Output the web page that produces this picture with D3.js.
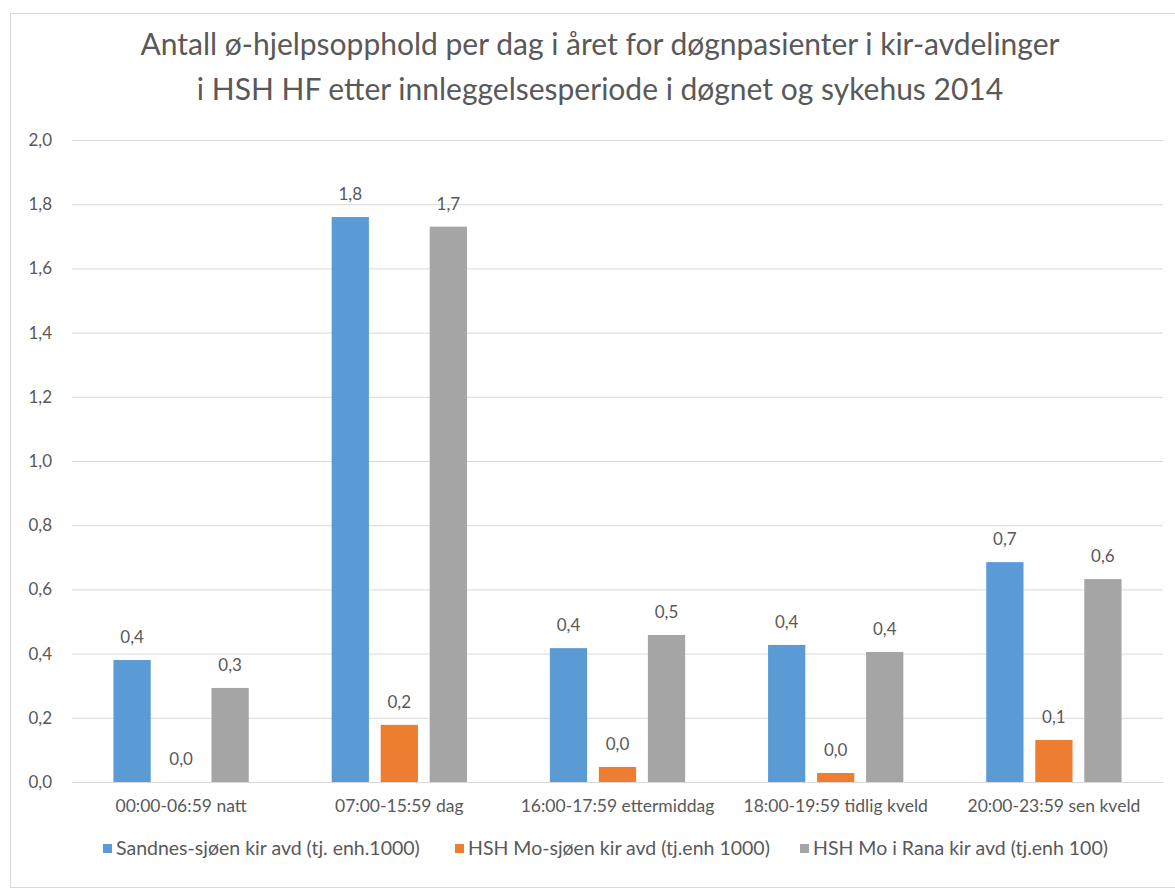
<!DOCTYPE html>
<html>
<head>
<meta charset="utf-8">
<script src="https://cdn.jsdelivr.net/npm/d3@7"></script>
<style>
  body { margin: 0; background: #fff; }
  svg text { font-family: Lato, "Open Sans", sans-serif; fill: #595959; }
</style>
</head>
<body>
<div id="content"></div>
<script>
// chart data
const categories = ["00:00-06:59 natt", "07:00-15:59 dag", "16:00-17:59 ettermiddag", "18:00-19:59 tidlig kveld", "20:00-23:59 sen kveld"];
const seriesNames = ["Sandnes-sjøen kir avd (tj. enh.1000)", "HSH Mo-sjøen kir avd (tj.enh 1000)", "HSH Mo i Rana kir avd (tj.enh 100)"];
const sandnessjoen = [0.38, 1.76, 0.417, 0.427, 0.685];
const moSjoen = [0, 0.178, 0.047, 0.028, 0.131];
const moIRana = [0.293, 1.73, 0.458, 0.405, 0.632];
const yTicks = [0, 0.2, 0.4, 0.6, 0.8, 1.0, 1.2, 1.4, 1.6, 1.8, 2.0];
const titleLines = ["Antall ø-hjelpsopphold  per dag i året for døgnpasienter i kir-avdelinger", "i HSH HF etter innleggelsesperiode  i døgnet og sykehus 2014"];

const colors = ["#5B9BD5", "#ED7D31", "#A5A5A5"];
const seriesValues = [sandnessjoen, moSjoen, moIRana];

const width = 1175, height = 890;
const x_min = 72, x_max = 1163, y_zero = 782, y_top = 140;

let svg = d3.select("#content")
  .append("svg")
  .attr("width", width)
  .attr("height", height);

// outer border
svg.append("rect")
  .attr("x", 10.5).attr("y", 13.5)
  .attr("width", 1200).attr("height", 874)
  .style("fill", "none")
  .style("stroke", "#D9D9D9");

// title
svg.append("g").selectAll("text")
  .data(titleLines)
  .join("text")
  .attr("x", 600)
  .attr("y", (d, i) => 55 + i * 45)
  .attr("text-anchor", "middle")
  .style("font-size", "30px")
  .text(d => d);

let x0 = d3.scaleBand()
  .domain(categories)
  .range([x_min, x_max])
  .paddingInner(0.38)
  .paddingOuter(0.19);

let x1 = d3.scaleBand()
  .domain(d3.range(seriesNames.length))
  .range([0, x0.bandwidth()])
  .paddingInner(0.24);

let y = d3.scaleLinear()
  .domain([0, 2])
  .range([y_zero, y_top]);

let fmt = v => d3.format(".1f")(v).replace(".", ",");

// y axis + gridlines
let yAxis = svg.append("g")
  .attr("transform", `translate(${x_min},0)`)
  .call(d3.axisLeft(y).tickValues(yTicks).tickFormat(fmt)
    .tickSize(-(x_max - x_min)).tickPadding(20));
yAxis.select(".domain").remove();
yAxis.selectAll("line").style("stroke", "#D9D9D9");
yAxis.selectAll("text").style("font-size", "17px").attr("font-family", null);

// bars
categories.forEach(function(cat, ci) {
  let g = svg.append("g").attr("transform", `translate(${x0(cat)},0)`);
  seriesValues.forEach(function(vals, si) {
    let v = vals[ci];
    g.append("rect")
      .attr("x", x1(si))
      .attr("y", y(v))
      .attr("width", x1.bandwidth())
      .attr("height", y(0) - y(v))
      .style("fill", colors[si]);
    g.append("text")
      .attr("x", x1(si) + x1.bandwidth() / 2)
      .attr("y", y(v) - 17)
      .attr("text-anchor", "middle")
      .style("font-size", "17px")
      .text(fmt(v));
  });
});

// x axis
let xAxis = svg.append("g")
  .attr("transform", `translate(0,${y_zero})`)
  .call(d3.axisBottom(x0).tickSize(0).tickSizeOuter(0).tickPadding(18));
xAxis.select(".domain").style("stroke", "#D9D9D9");
xAxis.selectAll("text").style("font-size", "17.5px").attr("font-family", null);

// legend
let legendX = [103, 455, 800];
let legend = svg.append("g").selectAll("g")
  .data(seriesNames)
  .join("g")
  .attr("transform", (d, i) => `translate(${legendX[i]},849)`);
legend.append("rect")
  .attr("x", 0).attr("y", -5)
  .attr("width", 9).attr("height", 9)
  .style("fill", (d, i) => colors[i]);
legend.append("text")
  .attr("x", 13)
  .attr("y", 6)
  .style("font-size", "19.5px")
  .text(d => d);
</script>
</body>
</html>
